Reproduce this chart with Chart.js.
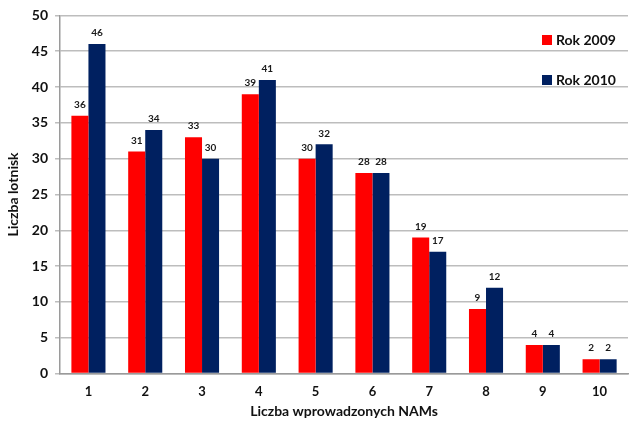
<!DOCTYPE html>
<html>
<head>
<meta charset="utf-8">
<script src="https://cdn.jsdelivr.net/npm/chart.js@4"></script>
<style>
  html, body { margin: 0; padding: 0; background: #fff; }
  #wrap { width: 636px; height: 423px; position: relative; }
</style>
</head>
<body>
<div id="wrap"><canvas id="c" width="636" height="423"></canvas></div>
<script>
const categories = ['1', '2', '3', '4', '5', '6', '7', '8', '9', '10'];
const values2009 = [36, 31, 33, 39, 30, 28, 19, 9, 4, 2];
const values2010 = [46, 34, 30, 41, 32, 28, 17, 12, 4, 2];
const seriesNames = ['Rok 2009', 'Rok 2010'];
const seriesColors = ['#ff0000', '#002060'];
const yTitle = 'Liczba lotnisk';
const xTitle = 'Liczba wprowadzonych NAMs';

const FONT = 'Lato, "Open Sans", sans-serif';

// Value labels above each bar
const valueLabels = {
  id: 'valueLabels',
  afterDatasetsDraw(chart) {
    const ctx = chart.ctx;
    ctx.save();
    ctx.font = 'bold 10px ' + FONT;
    ctx.fillStyle = '#1a1a1a';
    ctx.textAlign = 'center';
    ctx.textBaseline = 'bottom';
    chart.data.datasets.forEach((ds, i) => {
      chart.getDatasetMeta(i).data.forEach((bar, j) => {
        ctx.fillText(String(ds.data[j]), bar.x, bar.y - 6);
      });
    });
    ctx.restore();
  }
};

// Vertical legend in the upper right corner of the plot
const cornerLegend = {
  id: 'cornerLegend',
  afterDraw(chart) {
    const ctx = chart.ctx;
    ctx.save();
    ctx.font = 'bold 14px ' + FONT;
    ctx.textBaseline = 'middle';
    ctx.textAlign = 'left';
    chart.data.datasets.forEach((ds, i) => {
      const y = 40 + i * 40;
      ctx.fillStyle = ds.backgroundColor;
      ctx.fillRect(542, y - 5, 10, 10);
      ctx.fillStyle = '#111';
      ctx.fillText(ds.label, 556, y);
    });
    ctx.restore();
  }
};

new Chart(document.getElementById('c'), {
  type: 'bar',
  data: {
    labels: categories,
    datasets: [
      { label: seriesNames[0], data: values2009, backgroundColor: seriesColors[0] },
      { label: seriesNames[1], data: values2010, backgroundColor: seriesColors[1] }
    ]
  },
  options: {
    responsive: false,
    animation: false,
    devicePixelRatio: 1,
    layout: { padding: { top: 8, right: 8, left: 5, bottom: 3 } },
    datasets: { bar: { categoryPercentage: 0.6, barPercentage: 1.0, borderWidth: 0 } },
    plugins: {
      legend: { display: false },
      tooltip: { enabled: false }
    },
    scales: {
      x: {
        grid: { display: false, drawTicks: false },
        border: { color: '#9a9a9a', width: 1.5 },
        ticks: { color: '#111', font: { family: FONT, size: 13, weight: 'bold' }, padding: 10 },
        title: { display: true, text: xTitle, color: '#111', font: { family: FONT, size: 14, weight: 'bold' }, padding: { top: -6, bottom: 0 } }
      },
      y: {
        min: 0, max: 50,
        ticks: { stepSize: 5, color: '#111', font: { family: FONT, size: 14, weight: 'bold' }, padding: 7 },
        grid: { color: '#bdbdbd', lineWidth: 1.5, drawTicks: true, tickLength: 5 },
        border: { color: '#9a9a9a', width: 1.5 },
        title: { display: true, text: yTitle, color: '#111', font: { family: FONT, size: 14, weight: 'bold' }, padding: { top: 0, bottom: 3 } }
      }
    }
  },
  plugins: [valueLabels, cornerLegend]
});
</script>
</body>
</html>
